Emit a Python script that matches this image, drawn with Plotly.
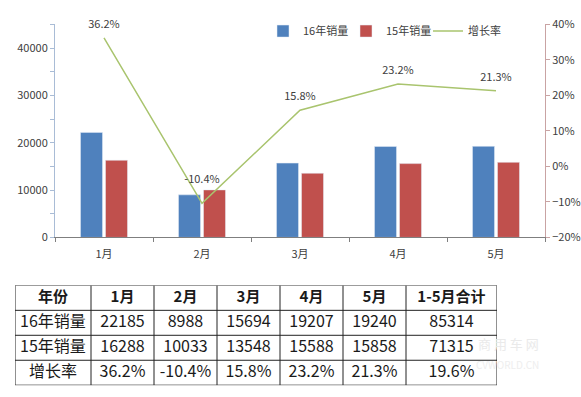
import plotly.graph_objects as go

months = ["1月", "2月", "3月", "4月", "5月"]
sales16 = [22185, 8988, 15694, 19207, 19240]
sales15 = [16288, 10033, 13548, 15588, 15858]
growth = [36.2, -10.4, 15.8, 23.2, 21.3]
total16 = 85314
total15 = 71315
total_growth = 19.6
table_header = ["年份"] + months + ["1-5月合计"]
row_names = ["16年销量", "15年销量", "增长率"]

FONT = "Noto Sans CJK SC, Liberation Sans, sans-serif"
W, H = 581, 397

def py(px):
    return 1 - px / H

fig = go.Figure()
fig.add_trace(go.Bar(x=months, y=sales16, name="16年销量", marker_color="#4F81BD", yaxis="y",
                     legend="legend"))
fig.add_trace(go.Bar(x=months, y=sales15, name="15年销量", marker_color="#C0504D", yaxis="y",
                     legend="legend2"))
fig.add_trace(go.Scatter(x=months, y=growth, name="增长率", mode="lines+markers+text", yaxis="y2",
                         legend="legend3", cliponaxis=False,
                         line=dict(color="#A9C46E", width=1.5),
                         marker=dict(size=[10, 26, 10, 10, 10], color="rgba(0,0,0,0)",
                                     line=dict(width=0)),
                         text=[f"{g:.1f}%" for g in growth], textposition="top center",
                         textfont=dict(size=11, color="#404040", family=FONT)))

# ---- table (drawn on its own axes: columns in px from table left, rows 0..4) ----
col_edges = [0, 76, 139, 202, 265, 328, 391, 482]
col_centers = [(col_edges[i] + col_edges[i + 1]) / 2 for i in range(len(col_edges) - 1)]

table_rows = [table_header]
table_rows.append([row_names[0]] + [str(v) for v in sales16] + [str(total16)])
table_rows.append([row_names[1]] + [str(v) for v in sales15] + [str(total15)])
table_rows.append([row_names[2]] + [f"{g:.1f}%" for g in growth] + [f"{total_growth:.1f}%"])

# faint watermark to the right of the table
annotations = [
    dict(text="商 用 车 网", x=541 / W, y=py(361), xref="paper", yref="paper", showarrow=False,
         font=dict(size=13, color="#EAEAEA", family=FONT)),
    dict(text="CVWORLD.CN", x=541 / W, y=py(380), xref="paper", yref="paper", showarrow=False,
         font=dict(size=10, color="#EEEEEE", family=FONT)),
]

for r, row in enumerate(table_rows):
    txt = [f"<b>{t}</b>" if r == 0 else t for t in row]
    fig.add_trace(go.Scatter(x=col_centers, y=[r + 0.5] * len(row), text=txt, mode="text",
                             xaxis="x3", yaxis="y3", showlegend=False, hoverinfo="skip",
                             textposition="middle center",
                             textfont=dict(size=15 if r == 0 else 16, color="#1A1A1A", family=FONT)))

shapes = []
for xe in col_edges:
    shapes.append(dict(type="line", xref="x3", yref="y3", x0=xe, x1=xe, y0=0, y1=4,
                       line=dict(color="#222222", width=1)))
for ye in range(5):
    shapes.append(dict(type="line", xref="x3", yref="y3", x0=0, x1=col_edges[-1], y0=ye, y1=ye,
                       line=dict(color="#222222", width=1)))

leg_common = dict(orientation="h", xanchor="left", yanchor="middle", y=py(23),
                  font=dict(size=11, color="#404040"), bgcolor="rgba(0,0,0,0)", itemwidth=30)

fig.update_layout(
    width=W, height=H,
    margin=dict(l=0, r=0, t=0, b=0),
    paper_bgcolor="white", plot_bgcolor="white",
    font=dict(family=FONT, size=11, color="#404040"),
    barmode="group", bargap=0.49, bargroupgap=0.12,
    showlegend=True,
    shapes=shapes,
    annotations=annotations,
    legend=dict(x=263 / W, **leg_common),
    legend2=dict(x=346 / W, **leg_common),
    legend3=dict(x=428 / W, **leg_common),
    xaxis=dict(domain=[55 / W, 545 / W], showline=True, linecolor="#7F7F7F", linewidth=1,
               ticks="outside", ticklen=4, tickcolor="#7F7F7F", tickson="boundaries",
               ticklabelstandoff=6,
               showgrid=False, tickfont=dict(size=11, color="#404040")),
    yaxis=dict(domain=[py(238), py(16)], range=[0, 45000], tickvals=[0, 10000, 20000, 30000, 40000],
               tickformat="d",
               showline=True, linecolor="#A9BCD6", linewidth=1, ticks="outside", ticklen=4,
               tickcolor="#A9BCD6", showgrid=False, zeroline=False,
               minor=dict(ticks="outside", ticklen=4, dtick=5000, tickcolor="#A9BCD6"),
               tickfont=dict(size=11, color="#404040")),
    yaxis2=dict(overlaying="y", side="right", anchor="x", range=[-20, 40], dtick=10, ticksuffix="%",
                showline=True, linecolor="#C9A3A3", linewidth=1, ticks="outside", ticklen=4,
                tickcolor="#C9A3A3", showgrid=False, zeroline=False,
                tickfont=dict(size=11, color="#404040")),
    xaxis3=dict(domain=[15 / W, 497 / W], range=[0, col_edges[-1]], visible=False, anchor="y3",
                fixedrange=True),
    yaxis3=dict(domain=[py(392), py(288)], range=[4, 0], visible=False, anchor="x3",
                fixedrange=True),
)

fig.write_html("out.html", config={"displayModeBar": False},
               post_script="document.body.style.margin='0';document.body.style.overflow='hidden';")
